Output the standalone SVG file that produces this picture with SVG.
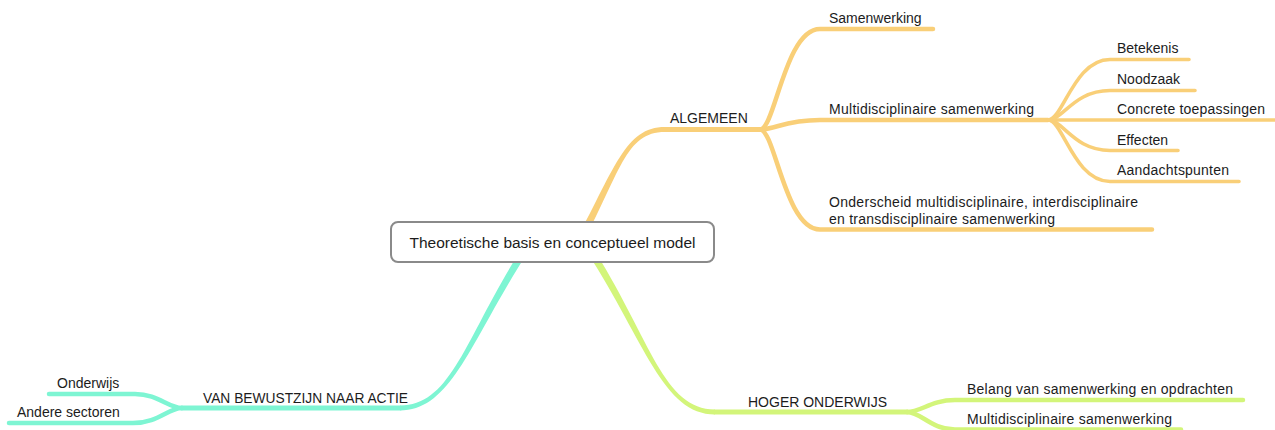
<svg xmlns="http://www.w3.org/2000/svg" width="1275" height="430" viewBox="0 0 1275 430">
  <style>
    .lbl { font-family: "Liberation Sans", Arial, Helvetica, sans-serif; font-size: 14px; fill: #1c1c1c; }
    .root { font-size: 15.5px; text-anchor: middle; }
    .edge { fill: none; stroke-linecap: round; stroke-linejoin: round; }
    .orange { stroke: #f9cf78; }
    .teal { stroke: #7ef5d3; }
    .lime { stroke: #d3f57a; }
    .w1 { stroke-width: 5; }
    .w2 { stroke-width: 4.5; }
    .w3 { stroke-width: 3.6; }
  </style>

  <!-- branch connectors -->
  <g id="connectors">
    <!-- tapered trunks leaving the central topic -->
    <path d="M 578.1 251.7 C 621.1 171.7 625 132 665 132 L 665 127 C 625 127 614.9 168.3 571.9 248.3 Z" fill="#f9cf78"/>
    <path d="M 532.1 233 C 467.1 328 455 405.5 400 405.5 L 400 410.5 C 455 410.5 472.9 332 537.9 237 Z" fill="#7ef5d3"/>
    <path d="M 577.1 237 C 642.1 332 660 414.5 715 414.5 L 715 409.5 C 660 409.5 647.9 328 582.9 233 Z" fill="#d3f57a"/>

    <!-- ALGEMEEN -->
    <path class="edge orange w1" d="M 665 129.5 L 760 129.5"/>
    <path class="edge orange w2" d="M 760 129.5 C 775 129.5 785 29 820 29 L 933 29"/>
    <path class="edge orange w2" d="M 760 129.5 C 775 129.5 785 120 820 120 L 1048 120"/>
    <path class="edge orange w2" d="M 760 129.5 C 775 129.5 785 229.5 820 229.5 L 1152 229.5"/>

    <!-- Multidisciplinaire samenwerking -->
    <path class="edge orange w3" d="M 1048 120 C 1063 120 1074 59.5 1110 59.5 L 1189 59.5"/>
    <path class="edge orange w3" d="M 1048 120 C 1063 120 1074 90.5 1110 90.5 L 1195 90.5"/>
    <path class="edge orange w3" d="M 1048 120 L 1278 120"/>
    <path class="edge orange w3" d="M 1048 120 C 1063 120 1074 150.5 1110 150.5 L 1178 150.5"/>
    <path class="edge orange w3" d="M 1048 120 C 1063 120 1074 181.5 1110 181.5 L 1239 181.5"/>

    <!-- VAN BEWUSTZIJN NAAR ACTIE -->
    <path class="edge teal w1" d="M 400 408 L 182 408"/>
    <path class="edge teal w2" d="M 182 408 C 168 408 158 394 135 394 L 49 394"/>
    <path class="edge teal w2" d="M 182 408 C 168 408 158 423 133 423 L 9 423"/>

    <!-- HOGER ONDERWIJS -->
    <path class="edge lime w1" d="M 715 412 L 907 412"/>
    <path class="edge lime w2" d="M 907 412 C 921 412 931 400 955 400 L 1243 400"/>
    <path class="edge lime w2" d="M 907 412 C 921 412 931 429.5 955 429.5 L 1181 429.5"/>
  </g>

  <!-- central topic -->
  <g id="node-root">
    <rect x="391" y="222" width="323" height="40" rx="7" ry="7" fill="#ffffff" stroke="#8a8a8a" stroke-width="2"/>
    <text class="lbl root" x="552.5" y="247.5">Theoretische basis en conceptueel model</text>
  </g>

  <g id="node-algemeen">
    <text class="lbl" x="670" y="123">ALGEMEEN</text>
  </g>
  <g id="node-samenwerking">
    <text class="lbl" x="829" y="22.5">Samenwerking</text>
  </g>
  <g id="node-multidisciplinair">
    <text class="lbl" x="829" y="114" textLength="205" lengthAdjust="spacing">Multidisciplinaire samenwerking</text>
  </g>
  <g id="node-onderscheid">
    <text class="lbl" x="829" y="206.5" textLength="309" lengthAdjust="spacing">Onderscheid multidisciplinaire, interdisciplinaire</text>
    <text class="lbl" x="829" y="224" textLength="226" lengthAdjust="spacing">en transdisciplinaire samenwerking</text>
  </g>
  <g id="node-betekenis">
    <text class="lbl" x="1117" y="53">Betekenis</text>
  </g>
  <g id="node-noodzaak">
    <text class="lbl" x="1117" y="84">Noodzaak</text>
  </g>
  <g id="node-toepassingen">
    <text class="lbl" x="1117" y="114" textLength="148" lengthAdjust="spacing">Concrete toepassingen</text>
  </g>
  <g id="node-effecten">
    <text class="lbl" x="1117" y="144.5">Effecten</text>
  </g>
  <g id="node-aandachtspunten">
    <text class="lbl" x="1117" y="175" textLength="112" lengthAdjust="spacing">Aandachtspunten</text>
  </g>

  <g id="node-actie">
    <text class="lbl" x="203" y="402.5" textLength="205" lengthAdjust="spacingAndGlyphs">VAN BEWUSTZIJN NAAR ACTIE</text>
  </g>
  <g id="node-onderwijs">
    <text class="lbl" x="57" y="387.5">Onderwijs</text>
  </g>
  <g id="node-sectoren">
    <text class="lbl" x="17" y="417">Andere sectoren</text>
  </g>

  <g id="node-hoger">
    <text class="lbl" x="748" y="407">HOGER ONDERWIJS</text>
  </g>
  <g id="node-belang">
    <text class="lbl" x="967" y="394" textLength="266" lengthAdjust="spacing">Belang van samenwerking en opdrachten</text>
  </g>
  <g id="node-hoger-multi">
    <text class="lbl" x="967" y="423.5" textLength="205" lengthAdjust="spacing">Multidisciplinaire samenwerking</text>
  </g>
</svg>
